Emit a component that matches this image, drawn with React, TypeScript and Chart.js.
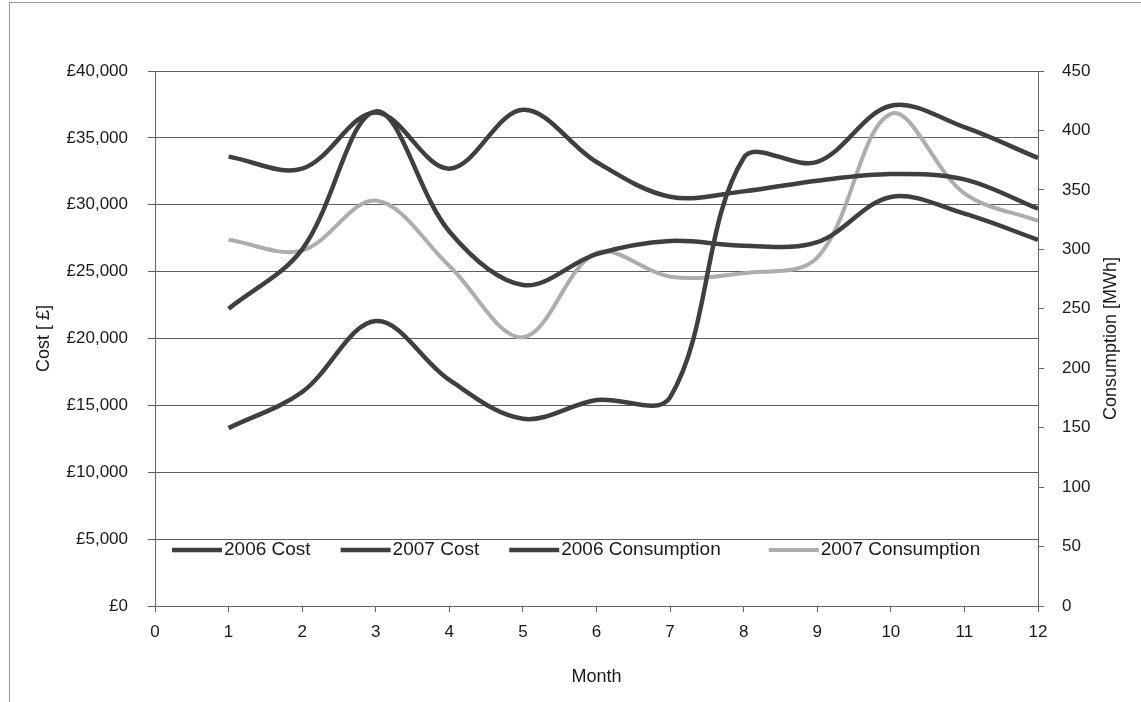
import React, { useEffect, useRef } from 'react';
import { Chart, registerables } from 'chart.js';

Chart.register(...registerables);

// ---- Data ----
const months = [1, 2, 3, 4, 5, 6, 7, 8, 9, 10, 11, 12];
const cost2006 = [13300, 16000, 21300, 16900, 14000, 15400, 15600, 33500, 33200, 37400, 35800, 33500];
const cost2007 = [33600, 32700, 36900, 32700, 37100, 33200, 30600, 31000, 31800, 32300, 31900, 29700];
const consumption2006 = [250, 300, 416, 315, 270, 296, 307, 303, 306, 344, 330, 308];
const consumption2007 = [308, 299, 341, 286, 226, 297, 277, 280, 293, 414, 347, 324];
const seriesLabels = ['2006 Cost', '2007 Cost', '2006 Consumption', '2007 Consumption'];
const xTitle = 'Month';
const leftTitle = 'Cost [ £]';
const rightTitle = 'Consumption [MWh]';

const FONT = "'Liberation Sans', Arial, Helvetica, sans-serif";
const DARK = '#3f3f3f';
const LIGHT = '#adadad';
const TEXT = '#1a1a1a';

export default function App() {
  const ref = useRef<HTMLCanvasElement | null>(null);

  useEffect(() => {
    if (!ref.current) return;
    const toXY = (vals: number[]) => months.map((m, i) => ({ x: m, y: vals[i] }));

    const framePlugin = {
      id: 'frame',
      beforeDraw(chart: any) {
        const ctx = chart.ctx;
        ctx.save();
        ctx.fillStyle = '#ffffff';
        ctx.fillRect(0, 0, chart.width, chart.height);
        ctx.strokeStyle = '#9a9a9a';
        ctx.lineWidth = 1;
        ctx.strokeRect(9.5, 2.5, chart.width + 10, chart.height + 10);
        ctx.restore();
      },
    };

    const gaps = [30, 30, 48];
    const inlineLegend = {
      id: 'inlineLegend',
      afterDatasetsDraw(chart: any) {
        const ctx = chart.ctx;
        const area = chart.chartArea;
        const y = area.bottom - 56;
        let x = 172;
        ctx.save();
        ctx.font = `19px ${FONT}`;
        ctx.textBaseline = 'middle';
        ctx.textAlign = 'left';
        chart.data.datasets.forEach((ds: any, i: number) => {
          ctx.strokeStyle = ds.borderColor;
          ctx.lineWidth = ds.borderWidth;
          ctx.lineCap = 'butt';
          ctx.beginPath();
          ctx.moveTo(x, y);
          ctx.lineTo(x + 50, y);
          ctx.stroke();
          x += 52;
          ctx.fillStyle = TEXT;
          ctx.fillText(ds.label, x, y);
          x += ctx.measureText(ds.label).width + (gaps[i] || 0);
        });
        ctx.restore();
      },
    };

    const rightTitlePlugin = {
      id: 'rightTitle',
      afterDraw(chart: any) {
        const ctx = chart.ctx;
        const area = chart.chartArea;
        ctx.save();
        ctx.font = `18px ${FONT}`;
        ctx.fillStyle = TEXT;
        ctx.textAlign = 'center';
        ctx.textBaseline = 'middle';
        ctx.translate(1111, (area.top + area.bottom) / 2);
        ctx.rotate(-Math.PI / 2);
        ctx.fillText(rightTitle, 0, 0);
        ctx.restore();
      },
    };

    const chart = new Chart(ref.current, {
      type: 'line',
      data: {
        datasets: [
          { label: seriesLabels[0], data: toXY(cost2006), yAxisID: 'y', borderColor: DARK, borderWidth: 4.5 },
          { label: seriesLabels[1], data: toXY(cost2007), yAxisID: 'y', borderColor: DARK, borderWidth: 4.5 },
          { label: seriesLabels[2], data: toXY(consumption2006), yAxisID: 'y1', borderColor: DARK, borderWidth: 4.5 },
          { label: seriesLabels[3], data: toXY(consumption2007), yAxisID: 'y1', borderColor: LIGHT, borderWidth: 4 },
        ].map((d) => ({ ...d, pointRadius: 0, tension: 0.35, fill: false })),
      },
      options: {
        animation: false,
        responsive: true,
        maintainAspectRatio: false,
        events: [],
        layout: { padding: { top: 71, left: 0, right: 0, bottom: 0 } },
        plugins: {
          legend: { display: false },
          tooltip: { enabled: false },
        },
        scales: {
          x: {
            type: 'linear',
            min: 0,
            max: 12,
            ticks: {
              stepSize: 1,
              color: TEXT,
              font: { family: FONT, size: 17 },
              padding: 10,
              maxRotation: 0,
              callback: (v: any) => String(v),
            },
            grid: { drawOnChartArea: false, drawTicks: true, tickLength: 6, color: '#666' },
            border: { color: '#666' },
            title: {
              display: true,
              text: xTitle,
              color: TEXT,
              font: { family: FONT, size: 18 },
              padding: { top: 0, bottom: 14 },
            },
            afterFit: (s: any) => { s.height = 96; },
          },
          y: {
            position: 'left',
            min: 0,
            max: 40000,
            ticks: {
              stepSize: 5000,
              color: TEXT,
              font: { family: FONT, size: 17 },
              padding: 20,
              callback: (v: any) => '£' + Number(v).toLocaleString('en-GB'),
            },
            grid: { color: '#5e5e5e', lineWidth: 1, tickLength: 7 },
            border: { color: '#666' },
            title: {
              display: true,
              text: leftTitle,
              color: TEXT,
              font: { family: FONT, size: 18 },
              padding: { top: 33, bottom: 0 },
            },
            afterFit: (s: any) => { s.width = 155; },
          },
          y1: {
            position: 'right',
            min: 0,
            max: 450,
            ticks: {
              stepSize: 50,
              color: TEXT,
              font: { family: FONT, size: 17 },
              padding: 18,
            },
            grid: { drawOnChartArea: false, tickLength: 6, color: '#666' },
            border: { color: '#666' },
            afterFit: (s: any) => { s.width = 103; },
          },
        },
      },
      plugins: [framePlugin, inlineLegend, rightTitlePlugin],
    } as any);

    return () => chart.destroy();
  }, []);

  return (
    <div style={{ position: 'fixed', left: 0, top: 0, width: 1141, height: 702, background: '#fff' }}>
      <canvas ref={ref} />
    </div>
  );
}
